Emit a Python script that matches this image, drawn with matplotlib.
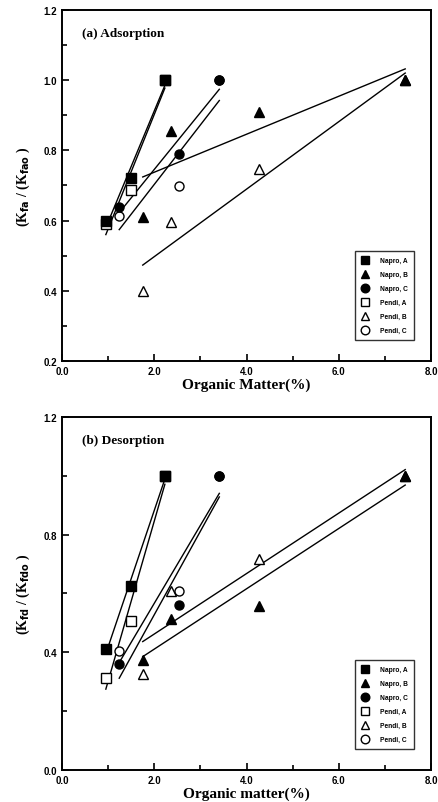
import numpy as np
import matplotlib
matplotlib.use('Agg')
import matplotlib.pyplot as plt
from matplotlib.ticker import MultipleLocator, FormatStrFormatter

# organic matter (%) for each soil series
om_a = [0.95, 1.5, 2.23]
om_b = [1.75, 2.36, 4.28, 7.44]
om_c = [1.24, 2.54, 3.41]

# (a) adsorption ratios
ads_napro_a = [0.60, 0.72, 1.0]
ads_napro_b = [0.61, 0.855, 0.91, 1.0]
ads_napro_c = [0.64, 0.79, 1.0]
ads_pendi_a = [0.59, 0.687, 1.0]
ads_pendi_b = [0.40, 0.595, 0.747, 1.0]
ads_pendi_c = [0.613, 0.698, 1.0]

# (b) desorption ratios
des_napro_a = [0.41, 0.625, 1.0]
des_napro_b = [0.375, 0.513, 0.558, 1.0]
des_napro_c = [0.36, 0.561, 1.0]
des_pendi_a = [0.313, 0.507, 1.0]
des_pendi_b = [0.326, 0.61, 0.717, 1.0]
des_pendi_c = [0.405, 0.61, 1.0]

labels = ['Napro, A', 'Napro, B', 'Napro, C', 'Pendi, A', 'Pendi, B', 'Pendi, C']
markers = ['s', '^', 'o', 's', '^', 'o']
filled = [True, True, True, False, False, False]
xs = [om_a, om_b, om_c, om_a, om_b, om_c]

serif = 'Liberation Serif'
sans = 'Liberation Sans'


def draw_panel(ax, ys, title, xlabel, ylabel, ymin, ymax, ymajor, yminor):
    # regression lines first, then markers on top (filled ones above open)
    for x, y in zip(xs, ys):
        k, b = np.polyfit(x, y, 1)
        xx = np.array([min(x), max(x)])
        ax.plot(xx, k * xx + b, color='black', lw=1.0, zorder=2)
    for x, y, m, f, lab in zip(xs, ys, markers, filled, labels):
        ax.plot(x, y, linestyle='none', marker=m, markersize=6.5,
                markerfacecolor='black' if f else 'white',
                markeredgecolor='black', markeredgewidth=1.0,
                label=lab, zorder=4 if f else 3)

    ax.set_xlim(0, 8)
    ax.set_ylim(ymin, ymax)
    ax.xaxis.set_major_locator(MultipleLocator(2))
    ax.xaxis.set_minor_locator(MultipleLocator(1))
    ax.yaxis.set_major_locator(MultipleLocator(ymajor))
    ax.yaxis.set_minor_locator(MultipleLocator(yminor))
    ax.xaxis.set_major_formatter(FormatStrFormatter('%.1f'))
    ax.yaxis.set_major_formatter(FormatStrFormatter('%.1f'))
    ax.tick_params(which='both', direction='in', width=1.2)
    ax.tick_params(which='major', length=5)
    ax.tick_params(which='minor', length=3.5)
    for lab in ax.get_xticklabels() + ax.get_yticklabels():
        lab.set_fontfamily(sans)
        lab.set_fontweight('bold')
        lab.set_fontsize(7)
    for sp in ax.spines.values():
        sp.set_linewidth(1.4)

    ax.text(0.055, 0.935, title, transform=ax.transAxes, fontsize=9.5,
            fontweight='bold', family=serif, va='center')
    ax.set_xlabel(xlabel, fontsize=11, fontweight='bold', family=serif, labelpad=1)
    ax.set_ylabel(ylabel, fontsize=10, fontweight='bold', family=serif, labelpad=8)

    leg = ax.legend(loc='lower right', bbox_to_anchor=(0.962, 0.05),
                    frameon=True, fancybox=False, edgecolor='black',
                    prop={'family': sans, 'weight': 'bold', 'size': 4.8},
                    handlelength=1.2, handletextpad=1.6, labelspacing=1.05,
                    borderpad=0.9, markerscale=0.95)
    leg.get_frame().set_linewidth(1.0)


fig = plt.figure(figsize=(4.38, 8.03), dpi=100)
ax1 = fig.add_axes([0.1416, 0.5492, 0.8425, 0.4371])
ax2 = fig.add_axes([0.1416, 0.0399, 0.8425, 0.4396])

draw_panel(ax1, [ads_napro_a, ads_napro_b, ads_napro_c,
                 ads_pendi_a, ads_pendi_b, ads_pendi_c],
           '(a) Adsorption', 'Organic Matter(%)',
           r'(K$_{\mathbf{fa}}$ / (K$_{\mathbf{fao}}$ )', 0.2, 1.2, 0.2, 0.1)
draw_panel(ax2, [des_napro_a, des_napro_b, des_napro_c,
                 des_pendi_a, des_pendi_b, des_pendi_c],
           '(b) Desorption', 'Organic matter(%)',
           r'(K$_{\mathbf{fd}}$ / (K$_{\mathbf{fdo}}$ )', 0.0, 1.2, 0.4, 0.2)

fig.savefig('out.png', dpi=100)
